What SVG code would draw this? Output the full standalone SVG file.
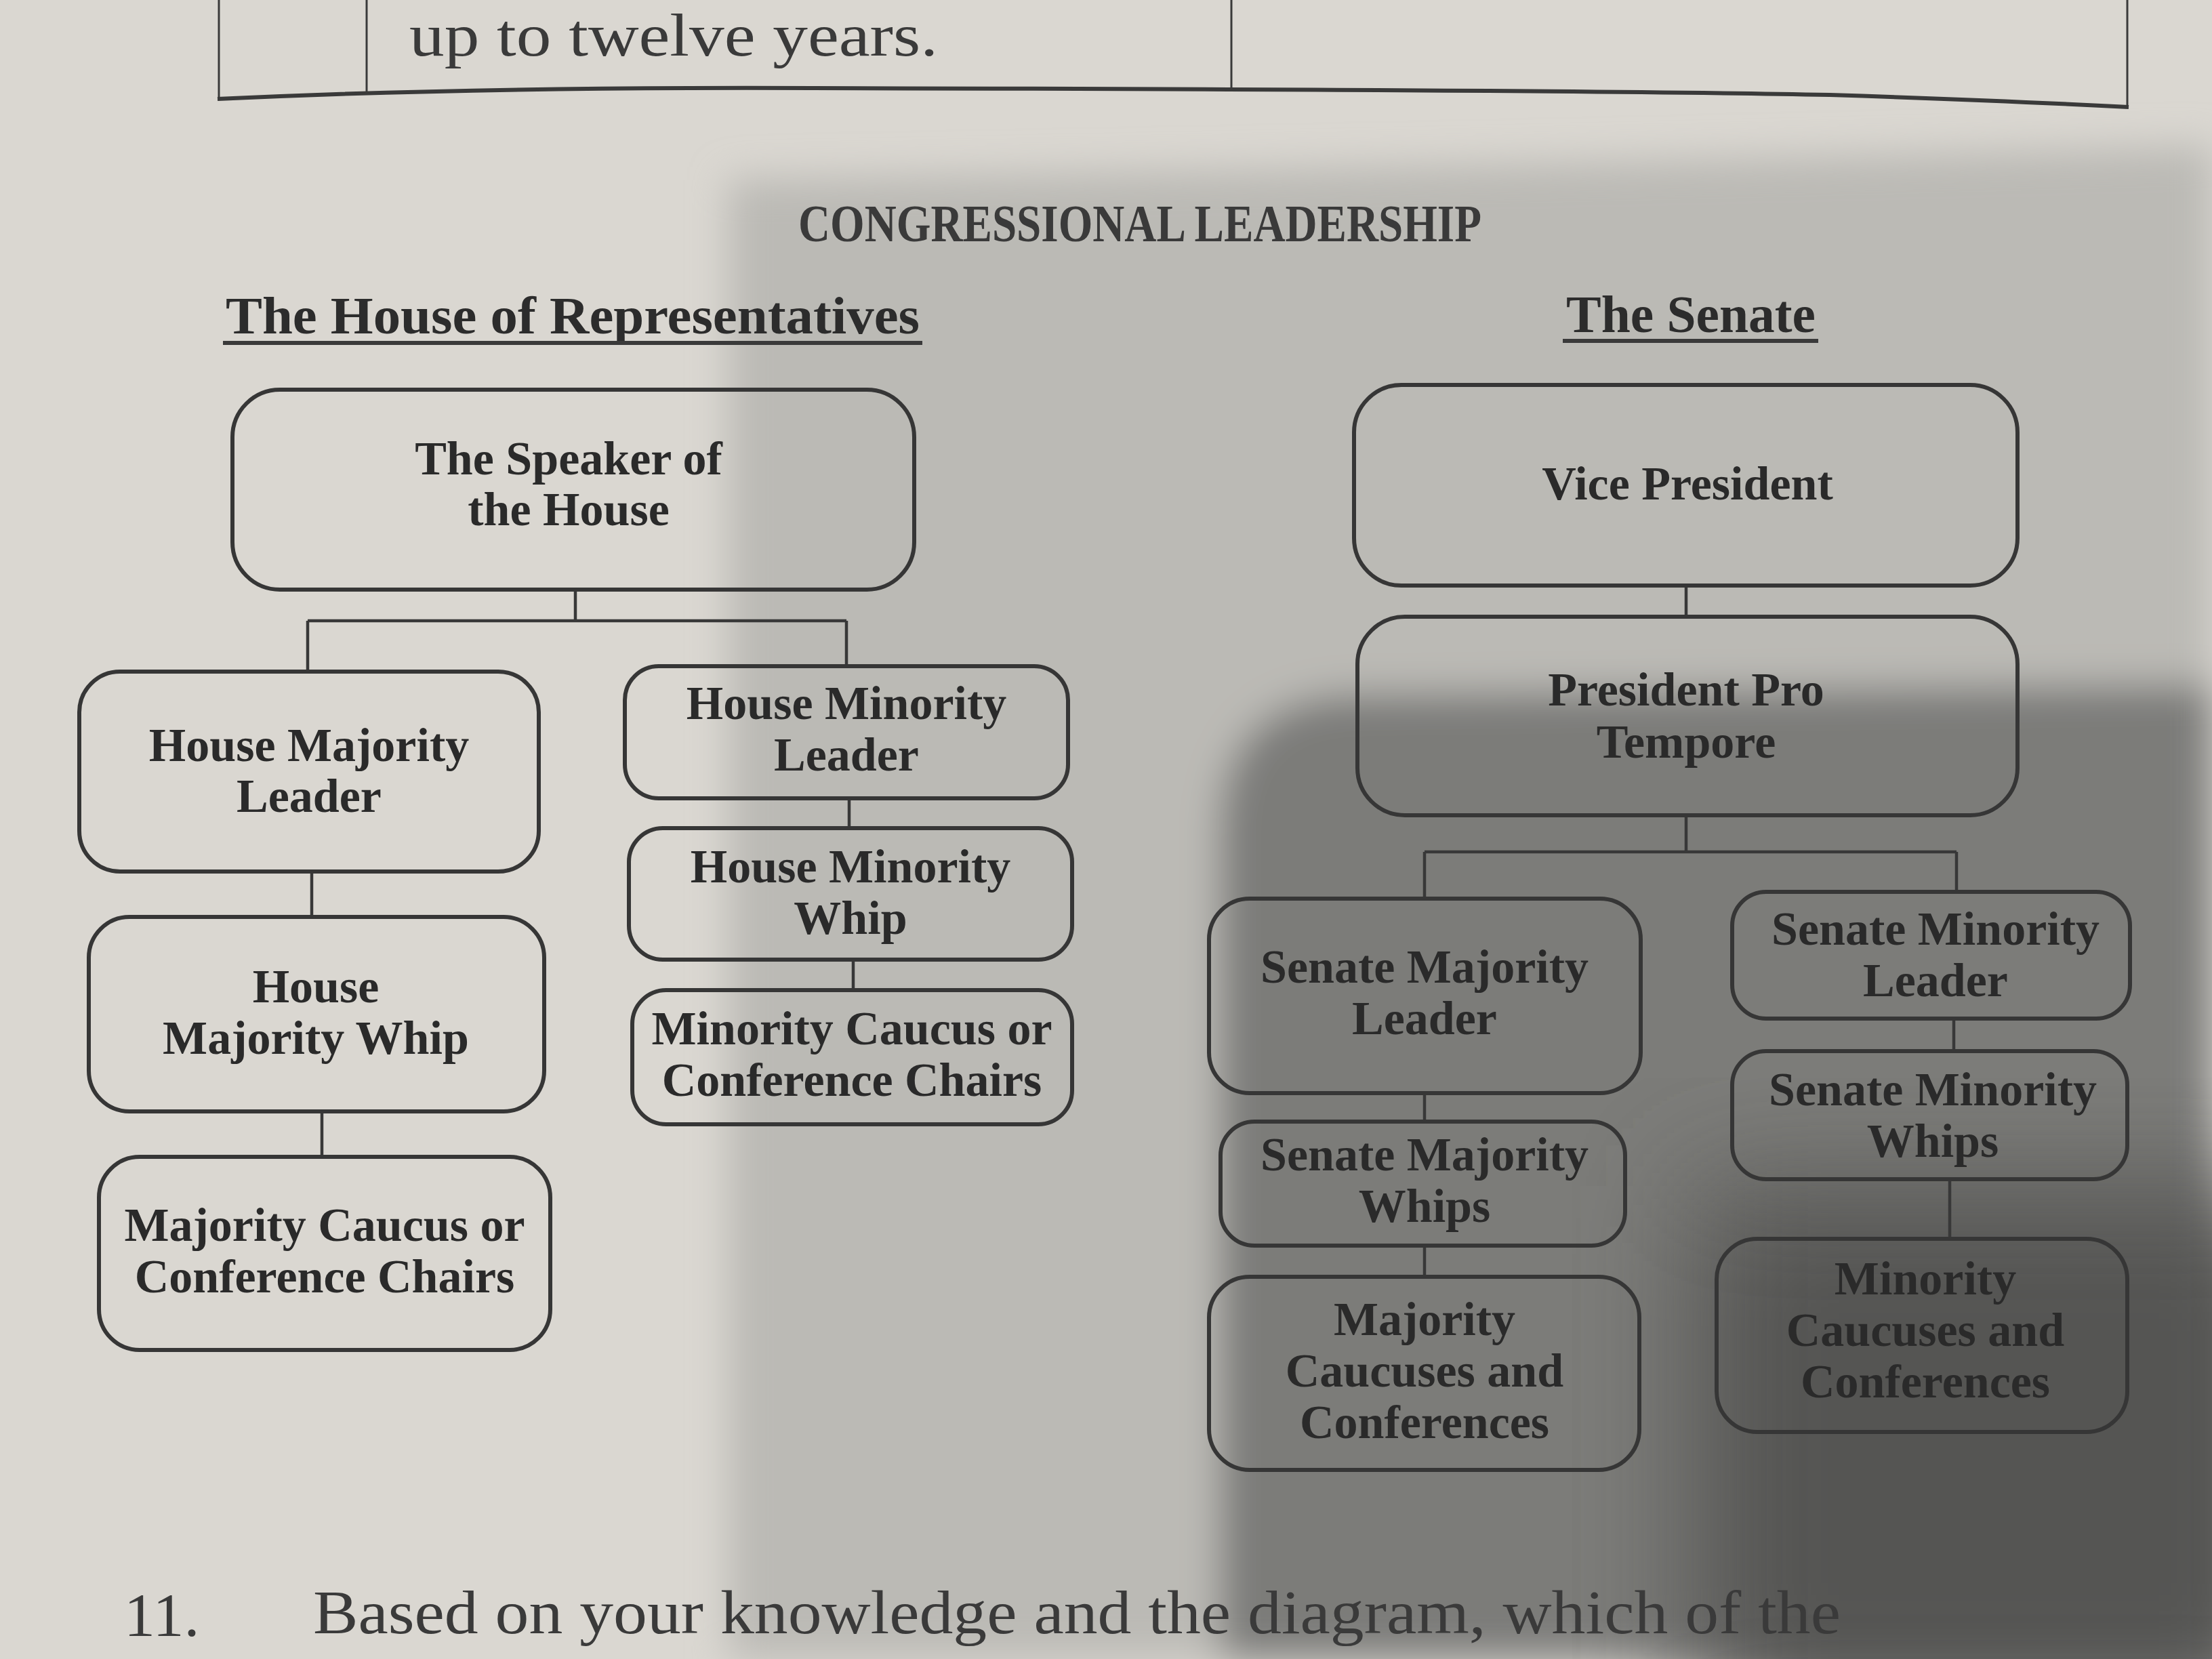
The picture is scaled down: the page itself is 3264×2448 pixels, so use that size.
<svg xmlns="http://www.w3.org/2000/svg" width="3264" height="2448" viewBox="0 0 3264 2448">
<defs>
<filter id="blur" x="-20%" y="-20%" width="140%" height="140%"><feGaussianBlur stdDeviation="28"/></filter>
<filter id="blur2" x="-20%" y="-20%" width="140%" height="140%"><feGaussianBlur stdDeviation="90"/></filter>
<style>
.box{fill:none;stroke:#363636;stroke-width:6}
.con{fill:none;stroke:#383838;stroke-width:4.5}
.t{font-family:"Liberation Serif",serif;font-weight:bold;font-size:70px;fill:#2a2a2a;text-anchor:middle}
.h{font-family:"Liberation Serif",serif;font-weight:bold;font-size:78px;fill:#2c2c2c}
.p{font-family:"Liberation Serif",serif;fill:#3a3a3a}
.ul{stroke:#3a3a3a;stroke-width:6}
.tbl{fill:none;stroke:#3a3a3a;stroke-width:3}
</style>
</defs>
<!-- paper and shadows -->
<rect width="3264" height="2448" fill="#dad7d1"/>
<g filter="url(#blur)">
<path d="M1075,265 Q2200,245 3264,215 L3264,2448 L1075,2448 Z" fill="#bbbab5"/>
<path d="M1800,2448 L1800,1230 Q1800,1030 2000,1025 L3264,1010 L3264,2448 Z" fill="#7c7c79"/>
</g>
<rect x="2500" y="1750" width="900" height="800" fill="#555552" filter="url(#blur2)"/>
<!-- table fragment -->
<g id="table">
<line class="tbl" x1="323" y1="0" x2="323" y2="146"/>
<line class="tbl" x1="541" y1="0" x2="541" y2="140"/>
<line class="tbl" x1="1817" y1="0" x2="1817" y2="134"/>
<line class="tbl" x1="3139" y1="0" x2="3139" y2="157"/>
<path d="M321,146 Q700,128 1200,130 Q2300,132 2700,140 Q2950,148 3141,158" fill="none" stroke="#3a3a3a" stroke-width="6"/>
<text class="p" x="604" y="82" font-size="88" textLength="780" lengthAdjust="spacingAndGlyphs">up to twelve years.</text>
</g>
<!-- titles -->
<text class="p" x="1178" y="356" font-size="78" font-weight="bold" fill="#2e2e2e" textLength="1008" lengthAdjust="spacingAndGlyphs">CONGRESSIONAL LEADERSHIP</text>
<text class="h" x="333" y="492" textLength="1024" lengthAdjust="spacingAndGlyphs">The House of Representatives</text>
<line class="ul" x1="329" y1="506" x2="1361" y2="506"/>
<text class="h" x="2311" y="490" textLength="368" lengthAdjust="spacingAndGlyphs">The Senate</text>
<line class="ul" x1="2306" y1="503" x2="2683" y2="503"/>
<!-- connectors -->
<g id="connectors">
<path class="con" d="M849,870 V916 M454,916 H1249 M454,916 V991 M1249,916 V983"/>
<path class="con" d="M460,1286 V1353"/>
<path class="con" d="M475,1640 V1707"/>
<path class="con" d="M1253,1178 V1222"/>
<path class="con" d="M1259,1416 V1461"/>
<path class="con" d="M2488,864 V910"/>
<path class="con" d="M2488,1203 V1257 M2102,1257 H2887 M2102,1257 V1326 M2887,1257 V1316"/>
<path class="con" d="M2102,1613 V1655"/>
<path class="con" d="M2102,1838 V1884"/>
<path class="con" d="M2883,1503 V1551"/>
<path class="con" d="M2877,1740 V1828"/>
</g>
<!-- House nodes -->
<g id="speaker"><rect class="box" x="343" y="575" width="1006" height="295" rx="70"/>
<text class="t" x="839" y="700">The Speaker of</text><text class="t" x="839" y="775">the House</text></g>
<g id="house-majority-leader"><rect class="box" x="117" y="991" width="678" height="295" rx="60"/>
<text class="t" x="456" y="1123">House Majority</text><text class="t" x="456" y="1198">Leader</text></g>
<g id="house-minority-leader"><rect class="box" x="922" y="983" width="654" height="195" rx="50"/>
<text class="t" x="1249" y="1061">House Minority</text><text class="t" x="1249" y="1137">Leader</text></g>
<g id="house-minority-whip"><rect class="box" x="928" y="1222" width="654" height="194" rx="50"/>
<text class="t" x="1255" y="1302">House Minority</text><text class="t" x="1255" y="1378">Whip</text></g>
<g id="minority-caucus-chairs"><rect class="box" x="933" y="1461" width="649" height="198" rx="50"/>
<text class="t" x="1257" y="1541">Minority Caucus or</text><text class="t" x="1257" y="1617">Conference Chairs</text></g>
<g id="house-majority-whip"><rect class="box" x="131" y="1353" width="672" height="287" rx="60"/>
<text class="t" x="466" y="1479">House</text><text class="t" x="466" y="1555">Majority Whip</text></g>
<g id="majority-caucus-chairs"><rect class="box" x="146" y="1707" width="666" height="285" rx="60"/>
<text class="t" x="479" y="1831">Majority Caucus or</text><text class="t" x="479" y="1907">Conference Chairs</text></g>
<!-- Senate nodes -->
<g id="vice-president"><rect class="box" x="1998" y="568" width="979" height="296" rx="70"/>
<text class="t" x="2490" y="737">Vice President</text></g>
<g id="president-pro-tempore"><rect class="box" x="2003" y="910" width="974" height="293" rx="70"/>
<text class="t" x="2488" y="1041">President Pro</text><text class="t" x="2488" y="1118">Tempore</text></g>
<g id="senate-majority-leader"><rect class="box" x="1784" y="1326" width="637" height="287" rx="60"/>
<text class="t" x="2102" y="1450">Senate Majority</text><text class="t" x="2102" y="1526">Leader</text></g>
<g id="senate-majority-whips"><rect class="box" x="1801" y="1655" width="597" height="183" rx="50"/>
<text class="t" x="2102" y="1727">Senate Majority</text><text class="t" x="2102" y="1803">Whips</text></g>
<g id="majority-caucuses"><rect class="box" x="1784" y="1884" width="635" height="285" rx="60"/>
<text class="t" x="2102" y="1970">Majority</text><text class="t" x="2102" y="2046">Caucuses and</text><text class="t" x="2102" y="2122">Conferences</text></g>
<g id="senate-minority-leader"><rect class="box" x="2556" y="1316" width="587" height="187" rx="50"/>
<text class="t" x="2856" y="1394">Senate Minority</text><text class="t" x="2856" y="1470">Leader</text></g>
<g id="senate-minority-whips"><rect class="box" x="2556" y="1551" width="583" height="189" rx="50"/>
<text class="t" x="2852" y="1631">Senate Minority</text><text class="t" x="2852" y="1707">Whips</text></g>
<g id="minority-caucuses"><rect class="box" x="2533" y="1828" width="606" height="285" rx="60"/>
<text class="t" x="2841" y="1910">Minority</text><text class="t" x="2841" y="1986">Caucuses and</text><text class="t" x="2841" y="2062">Conferences</text></g>
<!-- question -->
<text class="p" x="183" y="2414" font-size="92">11.</text>
<text class="p" x="462" y="2410" font-size="92" textLength="2254" lengthAdjust="spacingAndGlyphs">Based on your knowledge and the diagram, which of the</text>
</svg>
